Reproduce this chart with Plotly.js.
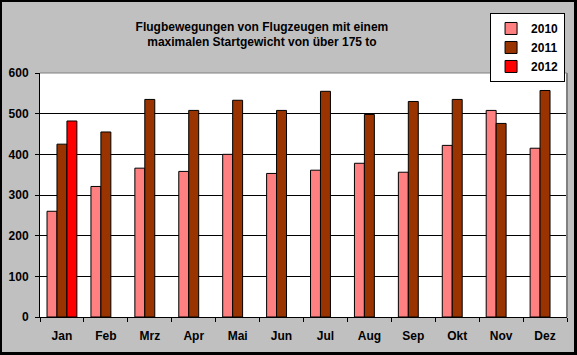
<!DOCTYPE html>
<html>
<head>
<meta charset="utf-8">
<script src="https://cdn.plot.ly/plotly-3.0.1.min.js"></script>
<style>
html,body{margin:0;padding:0;background:#C0C0C0;}
#wrap{position:relative;width:577px;height:355px;}
#chart{width:577px;height:355px;}
#frame{position:absolute;left:0;top:0;width:577px;height:355px;box-sizing:border-box;border:2px solid #000;border-bottom-width:3px;border-right-width:3px;pointer-events:none;}
</style>
</head>
<body>
<div id="wrap"><div id="chart"></div><div id="frame"></div></div>
<script>
const months = ["Jan","Feb","Mrz","Apr","Mai","Jun","Jul","Aug","Sep","Okt","Nov","Dez"];
const v2010 = [260,321,366,358,400,353,361,378,356,422,508,415];
const v2011 = [425,455,535,508,533,508,555,498,530,535,476,557];
const v2012 = [482,null,null,null,null,null,null,null,null,null,null,null];
const seriesNames = ["2010","2011","2012"];
const colors = ["#FF8080","#993300","#FF0000"];
const yTicks = [0,100,200,300,400,500,600];

const traces = [v2010, v2011, v2012].map((v,i)=>({
  type:"bar", x:months, y:v, name:seriesNames[i],
  marker:{color:colors[i], line:{color:"#000", width:1}}
}));

const F = "Arial, 'Liberation Sans', sans-serif";
const layout = {
  width:577, height:355,
  margin:{l:40, r:10, t:73, b:38},
  paper_bgcolor:"#C0C0C0", plot_bgcolor:"#FFFFFF",
  barmode:"group", bargap:0.32, bargroupgap:0,
  title:{text:"<b>Flugbewegungen von Flugzeugen mit einem<br>maximalen Startgewicht von über 175 to</b>",
    xref:"container", x:0.454, xanchor:"center", yref:"container", y:0.914, yanchor:"middle",
    font:{family:F, size:12, color:"#000", lineposition:"none"}},
  xaxis:{type:"category", tickson:"boundaries", ticks:"outside", ticklen:4, tickcolor:"#000",
    showline:true, linecolor:"#000", linewidth:1, showgrid:false,
    tickfont:{family:F, size:12, color:"#000", weight:"bold"}, ticklabelstandoff:8},
  yaxis:{range:[0,600], tickvals:yTicks, ticks:"outside", ticklen:4, tickcolor:"#000",
    showline:true, linecolor:"#000", linewidth:1, gridcolor:"#000", gridwidth:1, zeroline:false,
    tickfont:{family:F, size:12, color:"#000", weight:"bold"}, ticklabelstandoff:4, fixedrange:true},
  legend:{x:0.854, xanchor:"left", y:1.246, yanchor:"top", bgcolor:"#FFFFFF", bordercolor:"#000", borderwidth:1,
    font:{family:F, size:12, color:"#000", weight:"bold"}, itemwidth:30, tracegroupgap:0},
  shapes:[
    {type:"line", xref:"paper", yref:"paper", x0:0, x1:1, y0:1, y1:1, line:{color:"#808080", width:1}, layer:"above"},
    {type:"line", xref:"paper", yref:"paper", x0:1, x1:1, y0:0, y1:1, line:{color:"#808080", width:2}, layer:"above"}
  ],
  showlegend:true
};
Plotly.newPlot("chart", traces, layout, {staticPlot:true, displayModeBar:false});
</script>
</body>
</html>
